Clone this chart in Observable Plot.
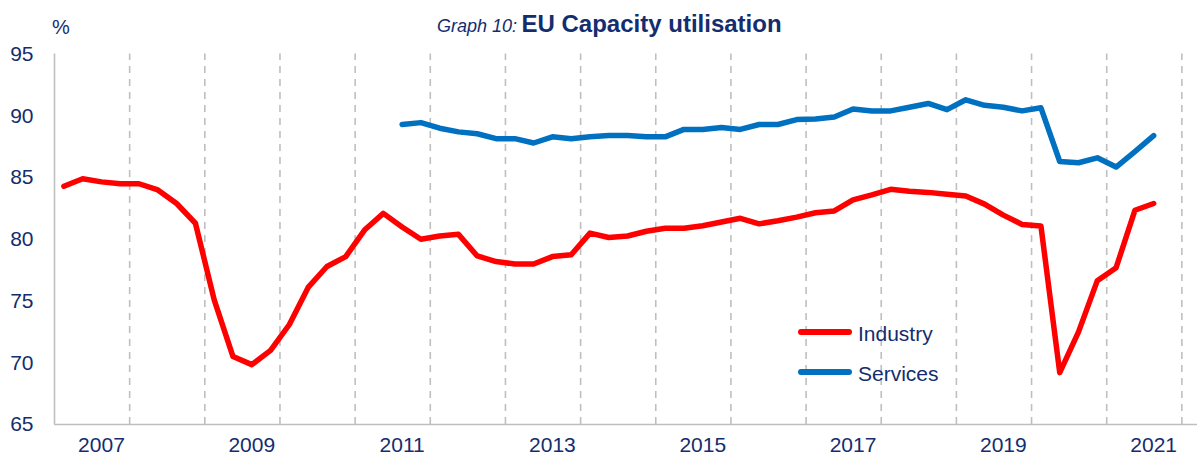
<!DOCTYPE html>
<html>
<head>
<meta charset="utf-8">
<script src="https://cdn.jsdelivr.net/npm/d3@7"></script>
<script src="https://cdn.jsdelivr.net/npm/@observablehq/plot@0.6"></script>
<style>
  html, body { margin: 0; padding: 0; background: #ffffff; }
  body { font-family: "Liberation Sans", Arial, sans-serif; color: #142D6E; width: 1197px; height: 468px; overflow: hidden; position: relative; }
  #hdr { position: relative; height: 40px; width: 1197px; }
  #title { position: absolute; left: 437px; top: 12px; white-space: nowrap; line-height: 24px; }
  #title .g { font-style: italic; font-size: 18px; }
  #title .t { font-weight: bold; font-size: 24px; }
  #pct { position: absolute; left: 52px; top: 17px; font-size: 20px; line-height: 20px; }
  .leg { position: absolute; left: 798px; width: 54px; height: 5.5px; border-radius: 3px; }
  .legt { position: absolute; left: 858px; font-size: 21px; line-height: 21px; }
  .ticks text { font-family: "Liberation Sans Narrow", "Arial Narrow", "Liberation Sans", Arial, sans-serif; }
</style>
</head>
<body>
<div id="hdr">
  <div id="title"><span class="g">Graph 10:</span> <span class="t">EU Capacity utilisation</span></div>
  <div id="pct">%</div>
</div>
<div id="chart"></div>
<div class="leg" style="top:329px; background:#FF0000;"></div>
<div class="legt" style="top:323px;">Industry</div>
<div class="leg" style="top:369px; background:#0070C0;"></div>
<div class="legt" style="top:363px;">Services</div>
<script>
// Quarterly categories (2007Q1 .. 2021Q3)
const quarters = [
  "2007Q1","2007Q2","2007Q3","2007Q4","2008Q1","2008Q2","2008Q3","2008Q4",
  "2009Q1","2009Q2","2009Q3","2009Q4","2010Q1","2010Q2","2010Q3","2010Q4",
  "2011Q1","2011Q2","2011Q3","2011Q4","2012Q1","2012Q2","2012Q3","2012Q4",
  "2013Q1","2013Q2","2013Q3","2013Q4","2014Q1","2014Q2","2014Q3","2014Q4",
  "2015Q1","2015Q2","2015Q3","2015Q4","2016Q1","2016Q2","2016Q3","2016Q4",
  "2017Q1","2017Q2","2017Q3","2017Q4","2018Q1","2018Q2","2018Q3","2018Q4",
  "2019Q1","2019Q2","2019Q3","2019Q4","2020Q1","2020Q2","2020Q3","2020Q4",
  "2021Q1","2021Q2","2021Q3"
];

// Industry capacity utilisation (%), 2007Q1 .. 2021Q3
const industry = [
  84.3, 84.9, 84.65, 84.5, 84.5, 84.0, 82.9, 81.3, 75.1, 70.5,
  69.85, 71.0, 73.1, 76.1, 77.8, 78.6, 80.75, 82.1, 81.0, 80.0,
  80.27, 80.4, 78.65, 78.2, 78.0, 78.0, 78.6, 78.75, 80.5, 80.15,
  80.27, 80.65, 80.9, 80.9, 81.1, 81.4, 81.7, 81.25, 81.5, 81.8,
  82.15, 82.3, 83.2, 83.6, 84.05, 83.9, 83.8, 83.65, 83.5, 82.85,
  81.96, 81.2, 81.07, 69.2, 72.5, 76.65, 77.7, 82.35, 82.9
];

// Services capacity utilisation (%), starts 2011Q3 .. 2021Q3
const servicesStart = "2011Q3";
const services = [
  89.3, 89.45, 89.0, 88.7, 88.55, 88.15, 88.15, 87.8, 88.3, 88.15,
  88.3, 88.4, 88.4, 88.3, 88.3, 88.9, 88.9, 89.05, 88.9, 89.3,
  89.3, 89.7, 89.75, 89.9, 90.55, 90.4, 90.4, 90.7, 91.0, 90.5,
  91.3, 90.85, 90.7, 90.4, 90.65, 86.3, 86.2, 86.6, 85.85, 87.1,
  88.4
];

// Axis labels
const yTicks = [65, 70, 75, 80, 85, 90, 95];
const xLabelYears = [2007, 2009, 2011, 2013, 2015, 2017, 2019, 2021];
const gridYears = [2008, 2009, 2010, 2011, 2012, 2013, 2014, 2015, 2016, 2017, 2018, 2019, 2020, 2021, 2022];

// quarter string -> numeric position (centre of the quarter)
const qpos = s => +s.slice(0, 4) + (+s.slice(5) - 1) / 4 + 0.125;

const indData = industry.map((v, i) => ({t: qpos(quarters[i]), v}));
const s0 = quarters.indexOf(servicesStart);
const srvData = services.map((v, i) => ({t: qpos(quarters[s0 + i]), v}));

const navy = "#142D6E";
const grid = "#BFBFBF";

const chart = Plot.plot({
  width: 1197,
  height: 428,
  marginLeft: 54,
  marginRight: 0,
  marginTop: 13.6,
  marginBottom: 44,
  style: {fontFamily: "'Liberation Sans', Arial, sans-serif", fontSize: "21px", color: navy, background: "#ffffff", overflow: "visible"},
  x: {type: "linear", domain: [2007, 2022.208]},
  y: {domain: [65, 95]},
  marks: [
    Plot.ruleX(gridYears, {x: d => d, y1: 65, y2: 95, stroke: grid, strokeWidth: 1.6, strokeDasharray: "7,6"}),
    Plot.ruleX([2007], {x: d => d, y1: 65, y2: 95, stroke: grid, strokeWidth: 1.6}),
    Plot.ruleY([65], {stroke: grid, strokeWidth: 1.6}),
    Plot.line(srvData, {x: "t", y: "v", stroke: "#0070C0", strokeWidth: 5.5, strokeLinejoin: "round", strokeLinecap: "round"}),
    Plot.line(indData, {x: "t", y: "v", stroke: "#FF0000", strokeWidth: 5.5, strokeLinejoin: "round", strokeLinecap: "round"}),
    Plot.axisY(yTicks, {tickSize: 0, tickPadding: 21, fontSize: 21, label: null, fill: navy, className: "ticks"}),
    Plot.axisX(xLabelYears.map(y => y + 0.625), {tickSize: 0, tickPadding: 13, fontSize: 21, label: null, fill: navy, className: "ticks", tickFormat: d => String(Math.floor(d))})
  ]
});
document.getElementById("chart").appendChild(chart);
</script>
</body>
</html>
